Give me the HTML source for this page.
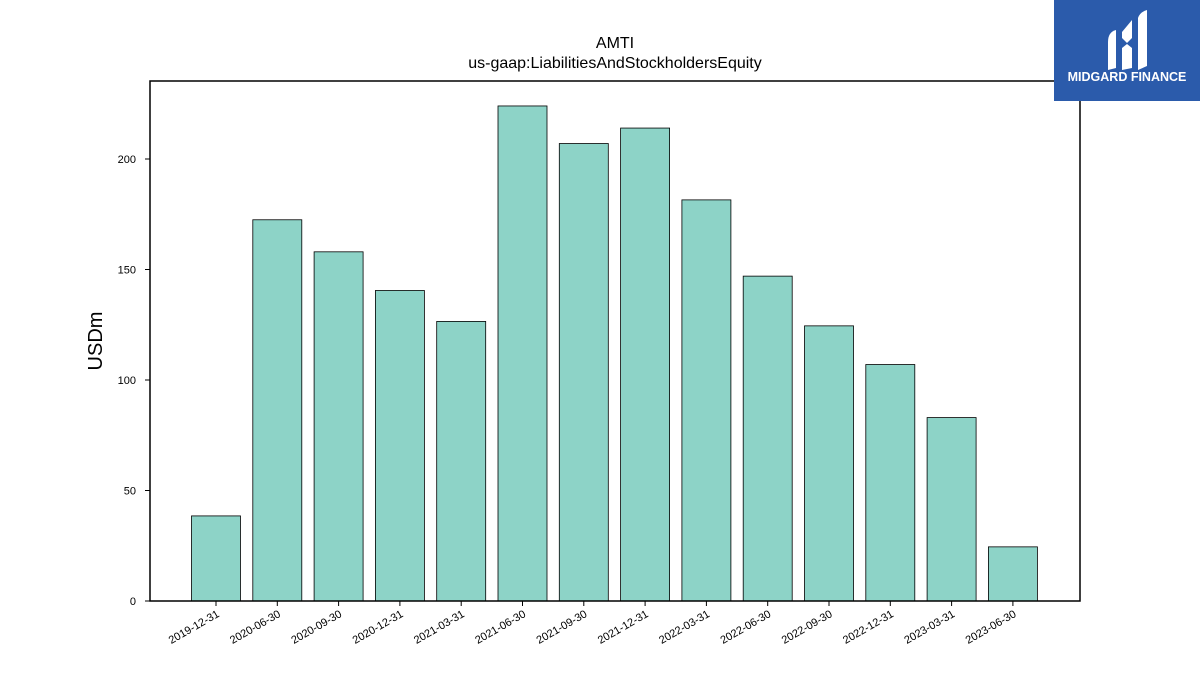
<!DOCTYPE html>
<html><head><meta charset="utf-8"><style>
body{margin:0;background:#fff;width:1200px;height:675px;overflow:hidden;font-family:"Liberation Sans","DejaVu Sans",sans-serif}
</style></head><body>
<svg id="chart" width="1200" height="675" xmlns="http://www.w3.org/2000/svg">
<text x="615" y="48" text-anchor="middle" font-size="16">AMTI</text>
<text x="615" y="68" text-anchor="middle" font-size="16">us-gaap:LiabilitiesAndStockholdersEquity</text>
<text transform="translate(102,341) rotate(-90)" text-anchor="middle" font-size="20">USDm</text>
<g id="bars"></g>
<g id="yticks"></g>
<g id="xticks"></g>
<rect x="150" y="81" width="930" height="520" fill="none" stroke="#000" stroke-width="1.5"/>
<g>
<rect x="1054" y="0" width="146" height="101" fill="#2b5bab"/>
<path d="M1108 42 Q1108 32 1116 30 L1116 68 L1108 70 Z" fill="#fff"/>
<path d="M1122 32 L1132 20 L1132 38 L1127 43 L1122 38 Z" fill="#fff"/>
<path d="M1122 48 L1127 44 L1132 48 L1132 68 L1122 70 Z" fill="#fff"/>
<path d="M1138 18 Q1140 12 1147 10 L1147 66 L1138 70 Z" fill="#fff"/>
<text x="1127" y="81" text-anchor="middle" font-size="12.5" font-weight="bold" fill="#fff">MIDGARD FINANCE</text>
</g>
</svg>
<script>
const categories=["2019-12-31","2020-06-30","2020-09-30","2020-12-31","2021-03-31","2021-06-30","2021-09-30","2021-12-31","2022-03-31","2022-06-30","2022-09-30","2022-12-31","2023-03-31","2023-06-30"];
const values=[38.5,172.5,158,140.5,126.5,224,207,214,181.5,147,124.5,107,83,24.5];
const yTicks=[0,50,100,150,200];
const NS="http://www.w3.org/2000/svg";
function xs(i){return 216+i*61.3;}
function ys(v){return 601-v*2.21;}
function mk(tag,attrs,parent){const e=document.createElementNS(NS,tag);for(const k in attrs)e.setAttribute(k,attrs[k]);parent.appendChild(e);return e;}
const bars=document.getElementById('bars'),yt=document.getElementById('yticks'),xt=document.getElementById('xticks');
values.forEach((v,i)=>{
 const r=mk('rect',{x:xs(i)-24.5,y:ys(v),width:49,height:ys(0)-ys(v),fill:'#8dd3c7',stroke:'#000','stroke-width':0.8},bars);
 
 
});
yTicks.forEach(t=>{
 const l=mk('line',{x1:145,x2:150,y1:ys(t),y2:ys(t),stroke:'#000'},yt);
 
 
 const tx=mk('text',{x:136,y:ys(t)+4,'text-anchor':'end','font-size':11},yt);
 tx.textContent=t;
 
 
});
categories.forEach((c,i)=>{
 const l=mk('line',{x1:xs(i),x2:xs(i),y1:601,y2:606,stroke:'#000'},xt);
 
 
 const tx=mk('text',{x:xs(i)+4,y:616,'text-anchor':'end','font-size':11,transform:`rotate(-30 ${xs(i)+4} 616)`},xt);
 tx.textContent=c;
 
 
});
</script>
</body></html>
